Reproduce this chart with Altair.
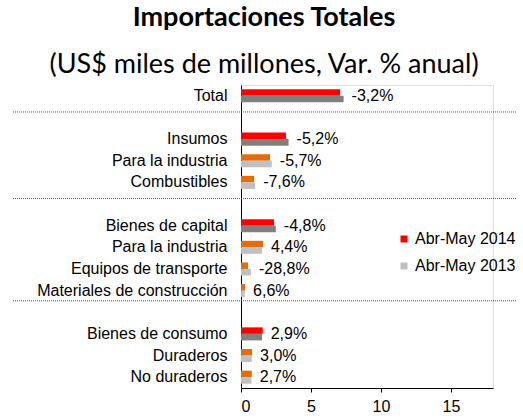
import altair as alt
import pandas as pd

# ---- data ----
row_labels = ["Total", "", "Insumos", "Para la industria", "Combustibles", "",
              "Bienes de capital", "Para la industria", "Equipos de transporte",
              "Materiales de construcción", "", "Bienes de consumo", "Duraderos",
              "No duraderos"]
data_rows = [0, 2, 3, 4, 6, 7, 8, 9, 11, 12, 13]
levels = ["T", "T", "S", "S", "T", "S", "S", "S", "T", "S", "S"]
v2014 = [7.08, 3.21, 2.07, 0.93, 2.36, 1.57, 0.50, 0.29, 1.55, 0.79, 0.77]
v2013 = [7.33, 3.40, 2.20, 1.01, 2.49, 1.50, 0.71, 0.27, 1.50, 0.77, 0.75]
var_labels = ["-3,2%", "-5,2%", "-5,7%", "-7,6%", "-4,8%", "4,4%", "-28,8%",
              "6,6%", "2,9%", "3,0%", "2,7%"]
separator_rows = [1, 5, 10]
separator_shift = [-5.5, -5.5, -11.5]
x_ticks = [0, 5, 10, 15]

years = ["2014", "2013"]
series_keys = ["T2014", "T2013", "S2014", "S2013"]
series_colors = ["#FF0000", "#808080", "#E46C0A", "#C0C0C0"]

recs = []
for r, lv, a, b in zip(data_rows, levels, v2014, v2013):
    recs.append({"row": r, "year": "2014", "key": lv + "2014", "value": a})
    recs.append({"row": r, "year": "2013", "key": lv + "2013", "value": b})
bars_df = pd.DataFrame(recs)
lab_df = pd.DataFrame({"row": data_rows, "v14": v2014, "v13": v2013, "label": var_labels})

FONT = "Liberation Sans"
FS = 16
label_js = "[" + ",".join("'" + s + "'" for s in row_labels) + "][datum.value]"

y_enc = alt.Y("row:O", scale=alt.Scale(domain=list(range(len(row_labels))),
                                       paddingInner=0, paddingOuter=0),
              axis=alt.Axis(title=None, labelExpr=label_js, ticks=False, domain=True,
                            domainColor="#000000", labelFont=FONT, labelFontSize=FS,
                            labelColor="#000000", labelPadding=14, labelLimit=300))

x_scale = alt.Scale(domain=[0, 18], nice=False)

bars = alt.Chart(bars_df).mark_bar().encode(
    x=alt.X("value:Q", scale=x_scale,
            axis=alt.Axis(title=None, values=x_ticks, grid=False, tickSize=4,
                          tickColor="#000000", domainColor="#000000",
                          labelFont=FONT, labelFontSize=FS, labelColor="#000000",
                          labelPadding=6)),
    y=y_enc,
    yOffset=alt.YOffset("year:N", sort=years,
                        scale=alt.Scale(paddingInner=0, paddingOuter=0.66)),
    color=alt.Color("key:N",
                    scale=alt.Scale(domain=series_keys, range=series_colors),
                    legend=alt.Legend(title=None, values=["T2014", "S2013"],
                                      labelExpr="datum.value == 'T2014' ? 'Abr-May 2014' : 'Abr-May 2013'",
                                      orient="none", legendX=155, legendY=146,
                                      symbolType="square", symbolSize=49,
                                      symbolStrokeWidth=0, labelFont=FONT,
                                      labelFontSize=FS, labelColor="#000000",
                                      labelOffset=3, rowPadding=11, padding=0)),
)

labels = alt.Chart(lab_df).transform_calculate(
    xmax="max(datum.v14, datum.v13)"
).mark_text(align="left", baseline="middle", dx=8, font=FONT, fontSize=FS,
            color="#000000").encode(
    x=alt.X("xmax:Q", scale=x_scale),
    y=alt.Y("row:O"),
    text="label:N",
)

layers = [bars, labels]
for r, sh in zip(separator_rows, separator_shift):
    sep_df = pd.DataFrame({"row": [r]})
    layers.append(
        alt.Chart(sep_df).mark_rule(strokeDash=[1, 1], color="#555555",
                                    strokeWidth=1, yOffset=sh).encode(
            y=alt.Y("row:O"),
            x=alt.value(-228),
            x2=alt.value(276),
        )
    )

chart = alt.layer(*layers).properties(
    width=252, height=303,
    title=alt.Title(text="Importaciones Totales",
                    subtitle="(US$ miles de millones, Var. % anual)",
                    anchor="middle", dx=-103, offset=6,
                    font="Lato", fontSize=27, fontWeight="bold", color="#000000",
                    subtitleFont="Lato", subtitleFontSize=27,
                    subtitleColor="#000000", subtitlePadding=20),
    autosize=alt.AutoSizeParams(type="none"),
    padding={"left": 241, "top": 85, "right": 30, "bottom": 32},
).configure_view(stroke=None).configure(background="white")

chart.save("out.html", embed_options={"renderer": "svg", "actions": False})
